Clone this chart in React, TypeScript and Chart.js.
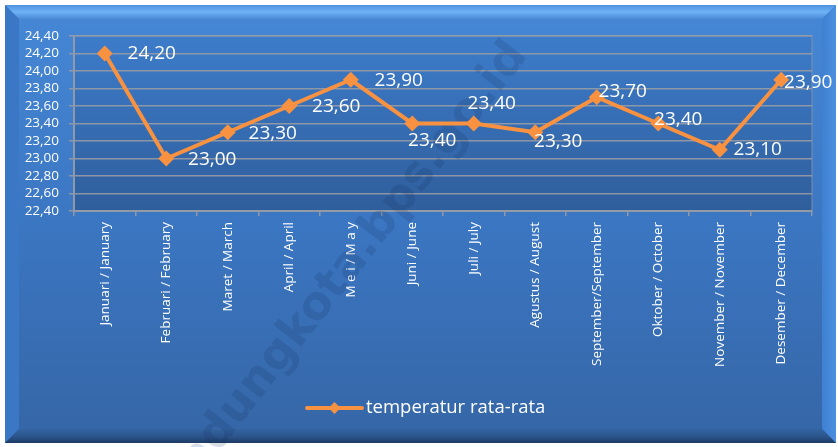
import React, { useEffect, useRef } from "react";
import { Chart, registerables } from "chart.js";

Chart.register(...registerables);

const categories = [
  "Januari / January",
  "Februari / February",
  "Maret / March",
  "April / April",
  "M e i / M a y",
  "Juni / June",
  "Juli / July",
  "Agustus / August",
  "September/September",
  "Oktober / October",
  "November / November",
  "Desember / December",
];

const temperatures = [24.2, 23.0, 23.3, 23.6, 23.9, 23.4, 23.4, 23.3, 23.7, 23.4, 23.1, 23.9];

const seriesName = "temperatur rata-rata";
const watermarkText = "bandungkota.bps.go.id";

// label placement offsets relative to each point (px)
const labelDx = [47, 46, 45, 47, 48, 20, 18, 23, 26, 20, 38, 27];
const labelDy = [0, 1, 1, 1, 1, 17, -20, 9, -6, -4, 0, 3];

const ORANGE = "#f99240";
const fmt = (v: number) => v.toFixed(2).replace(".", ",");

const framePlugin = {
  id: "frame",
  beforeDraw(chart: any) {
    const { ctx, width, height, chartArea } = chart;
    ctx.save();
    ctx.fillStyle = "#ffffff";
    ctx.fillRect(0, 0, width, height);
    const L = 5, T = 5, R = width - 2, B = height - 4, bw = 14;
    const g = ctx.createLinearGradient(0, T, 0, B);
    g.addColorStop(0, "#4688d6");
    g.addColorStop(0.5, "#3b76c2");
    g.addColorStop(1, "#3566a6");
    ctx.fillStyle = g;
    ctx.fillRect(L, T, R - L, B - T);
    const gt = ctx.createLinearGradient(0, T, 0, T + bw);
    gt.addColorStop(0, "#4e92e0");
    gt.addColorStop(0.5, "#6fb2f4");
    gt.addColorStop(1, "#4a8ad8");
    ctx.fillStyle = gt;
    ctx.beginPath();
    ctx.moveTo(L, T); ctx.lineTo(R, T); ctx.lineTo(R - bw, T + bw); ctx.lineTo(L + bw, T + bw); ctx.closePath();
    ctx.fill();
    ctx.fillStyle = "#3a77c4";
    ctx.beginPath();
    ctx.moveTo(L, T); ctx.lineTo(L + bw, T + bw); ctx.lineTo(L + bw, B - bw); ctx.lineTo(L, B); ctx.closePath();
    ctx.fill();
    const gr = ctx.createLinearGradient(R - bw, 0, R, 0);
    gr.addColorStop(0, "#3f80d0");
    gr.addColorStop(1, "#4b8fe0");
    ctx.fillStyle = gr;
    ctx.beginPath();
    ctx.moveTo(R, T); ctx.lineTo(R, B); ctx.lineTo(R - bw, B - bw); ctx.lineTo(R - bw, T + bw); ctx.closePath();
    ctx.fill();
    const gb = ctx.createLinearGradient(0, B - bw, 0, B);
    gb.addColorStop(0, "#3464a2");
    gb.addColorStop(0.6, "#2a5288");
    gb.addColorStop(1, "#1c3a64");
    ctx.fillStyle = gb;
    ctx.beginPath();
    ctx.moveTo(L, B); ctx.lineTo(R, B); ctx.lineTo(R - bw, B - bw); ctx.lineTo(L + bw, B - bw); ctx.closePath();
    ctx.fill();
    const ga = ctx.createLinearGradient(0, chartArea.top, 0, chartArea.bottom);
    ga.addColorStop(0, "#3d7cca");
    ga.addColorStop(1, "#2f5e9c");
    ctx.fillStyle = ga;
    ctx.fillRect(chartArea.left, chartArea.top, chartArea.right - chartArea.left, chartArea.bottom - chartArea.top);
    ctx.strokeStyle = "rgba(140,150,165,0.8)";
    ctx.lineWidth = 1;
    ctx.strokeRect(chartArea.left, chartArea.top, chartArea.right - chartArea.left, chartArea.bottom - chartArea.top);
    ctx.restore();
  },
  beforeDatasetsDraw(chart: any) {
    const { ctx, height } = chart;
    ctx.save();
    ctx.font = "bold 46px 'DejaVu Sans'";
    const pre = ctx.measureText("ban").width;
    ctx.translate(218, height + 6);
    ctx.rotate((-52 * Math.PI) / 180);
    ctx.fillStyle = "rgba(20,45,90,0.16)";
    ctx.textBaseline = "alphabetic";
    ctx.fillText(watermarkText, -pre, 0);
    ctx.restore();
  },
  afterDatasetsDraw(chart: any) {
    const { ctx } = chart;
    const meta = chart.getDatasetMeta(0);
    ctx.save();
    ctx.fillStyle = "#ffffff";
    ctx.font = "19px 'Open Sans'";
    ctx.textAlign = "center";
    ctx.textBaseline = "middle";
    meta.data.forEach((pt: any, i: number) => {
      ctx.fillText(fmt(temperatures[i]), pt.x + labelDx[i], pt.y + labelDy[i]);
    });
    ctx.restore();
  },
  afterDraw(chart: any) {
    const { ctx } = chart;
    ctx.save();
    ctx.font = "18.5px 'Open Sans'";
    const lineW = 55;
    const x0 = 307;
    const y = 408;
    ctx.strokeStyle = ORANGE;
    ctx.lineWidth = 4;
    ctx.lineCap = "round";
    ctx.beginPath();
    ctx.moveTo(x0, y);
    ctx.lineTo(x0 + lineW, y);
    ctx.stroke();
    ctx.fillStyle = ORANGE;
    const cx = x0 + lineW / 2, r = 6;
    ctx.beginPath();
    ctx.moveTo(cx, y - r); ctx.lineTo(cx + r, y); ctx.lineTo(cx, y + r); ctx.lineTo(cx - r, y); ctx.closePath();
    ctx.fill();
    ctx.fillStyle = "#ffffff";
    ctx.textBaseline = "middle";
    ctx.fillText(seriesName, x0 + lineW + 4, y);
    ctx.restore();
  },
};

export default function App() {
  const ref = useRef<HTMLCanvasElement>(null);
  useEffect(() => {
    document.body.style.margin = "0";
    const chart = new Chart(ref.current as HTMLCanvasElement, {
      type: "line",
      data: {
        labels: categories,
        datasets: [
          {
            label: seriesName,
            data: temperatures,
            borderColor: ORANGE,
            backgroundColor: ORANGE,
            borderWidth: 4,
            pointStyle: "rectRot",
            pointRadius: 8,
            pointBorderWidth: 0,
            tension: 0,
          },
        ],
      },
      options: {
        animation: false,
        responsive: false,
        layout: { padding: { top: 36, right: 26, left: 0, bottom: 0 } },
        plugins: { legend: { display: false }, tooltip: { enabled: false } },
        scales: {
          x: {
            offset: true,
            afterFit: (s: any) => { s.height = 236; },
            grid: {
              offset: true,
              drawOnChartArea: false,
              color: "rgba(150,155,165,0.9)",
              tickLength: 5,
              lineWidth: 1.5,
            },
            border: { color: "rgba(150,155,165,0.9)", width: 2 },
            ticks: {
              color: "#ffffff",
              font: { family: "'Open Sans'", size: 13.5 },
              minRotation: 90,
              maxRotation: 90,
              padding: 6,
              autoSkip: false,
            },
          },
          y: {
            min: 22.4,
            max: 24.4,
            afterFit: (s: any) => { s.width = 74; },
            grid: {
              color: "rgba(150,155,165,0.9)",
              lineWidth: 1.5,
              tickLength: 5,
            },
            border: { color: "rgba(150,155,165,0.9)", width: 2 },
            ticks: {
              stepSize: 0.2,
              autoSkip: false,
              color: "#ffffff",
              font: { family: "'Open Sans'", size: 13.5 },
              padding: 10,
              callback: (v: any) => fmt(Number(v)),
            },
          },
        },
      },
      plugins: [framePlugin],
    });
    return () => chart.destroy();
  }, []);
  return (
    <div style={{ width: 838, height: 447 }}>
      <canvas ref={ref} width={838} height={447} style={{ display: "block" }} />
    </div>
  );
}
